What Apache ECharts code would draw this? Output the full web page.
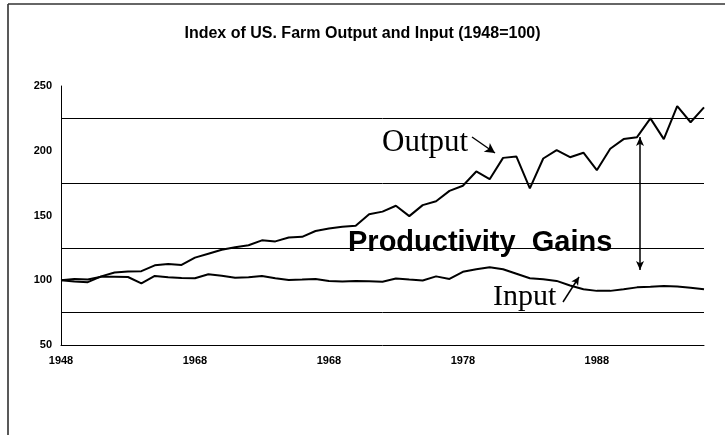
<!DOCTYPE html>
<html>
<head>
<meta charset="utf-8">
<script src="https://cdn.jsdelivr.net/npm/echarts@6/dist/echarts.min.js"></script>
<style>
html,body{margin:0;padding:0;background:#fff;}
#chart{width:725px;height:435px;}
</style>
</head>
<body>
<div id="chart"></div>
<script>
const years = [1948,1949,1950,1951,1952,1953,1954,1955,1956,1957,1958,1959,1960,1961,1962,1963,1964,1965,1966,1967,1968,1969,1970,1971,1972,1973,1974,1975,1976,1977,1978,1979,1980,1981,1982,1983,1984,1985,1986,1987,1988,1989,1990,1991,1992,1993,1994,1995,1996];
const outputIndex = [100,99,98.5,103,106,106.8,107,111.5,112.5,111.8,117.5,120.5,123.5,125.5,127,130.8,130,133,133.5,138,140,141.4,142,151,153,157.5,149.5,158,161,169,173,184,178,194.5,195.5,171,194,200.5,195,198.5,185,201.5,209,210.5,225,209,234.5,222,233.5];
const inputIndex = [100,101,100.5,102.7,102.7,102.5,97.6,103.3,102.3,101.8,101.5,104.6,103.5,102,102.3,103.3,101.5,100.2,100.5,101,99.5,99,99.4,99.2,98.9,101.3,100.5,99.8,103,101,106.5,108.5,110,108.5,105,101.5,100.8,99.5,96,93,91.8,91.8,93,94.5,95,95.6,95.2,94.2,93];
// tick positions (years) and the labels printed under them in the original
const xTickValues = [1948,1958,1968,1978,1988];
const xTickLabels = ['1948','1968','1968','1978','1988'];
const titleText = 'Index of US. Farm Output and Input (1948=100)';

const sans = '"Liberation Sans", Arial, sans-serif';
const serif = '"Liberation Serif", "Times New Roman", serif';

const outputData = years.map((y, i) => [y, outputIndex[i]]);
const inputData = years.map((y, i) => [y, inputIndex[i]]);

const chart = echarts.init(document.getElementById('chart'), null, {renderer: 'canvas'});
chart.setOption({
  animation: false,
  backgroundColor: '#fff',
  title: {
    text: titleText,
    left: 'center',
    top: 21,
    textStyle: {fontFamily: sans, fontWeight: 'bold', fontSize: 16, color: '#000'}
  },
  grid: {left: 61, right: 21, top: 86, bottom: 90},
  xAxis: {
    type: 'value', min: 1948, max: 1996, interval: 10,
    axisLine: {show: true, lineStyle: {color: '#000', width: 1}},
    axisTick: {show: false},
    splitLine: {show: false},
    axisLabel: {
      show: true, margin: 10, color: '#000', fontFamily: sans, fontWeight: 'bold', fontSize: 11,
      showMaxLabel: false,
      formatter: function (v) {
        const i = xTickValues.indexOf(Math.round(v));
        return i >= 0 ? xTickLabels[i] : '';
      }
    }
  },
  yAxis: {
    type: 'value', min: 50, max: 250, interval: 50,
    axisLine: {show: true, lineStyle: {color: '#000', width: 1}},
    axisTick: {show: false},
    axisLabel: {color: '#000', fontFamily: sans, fontWeight: 'bold', fontSize: 11, margin: 9, padding: [0, 0, 5, 0]},
    splitLine: {show: false},
    minorTick: {show: false, splitNumber: 2},
    minorSplitLine: {show: true, lineStyle: {color: '#000', width: 1}}
  },
  series: [
    {
      name: 'Output', type: 'line',
      data: outputData, showSymbol: false, symbol: 'none',
      lineStyle: {color: '#000', width: 2}, silent: true,
      markLine: {
        silent: true, animation: false,
        label: {show: false},
        lineStyle: {color: '#000', width: 1.5, type: 'solid'},
        data: [
          [{x: 472, y: 137, symbol: 'none'}, {x: 495, y: 153, symbol: 'arrow', symbolSize: [8, 10]}],
          [{x: 640, y: 137, symbol: 'arrow', symbolSize: [6, 9]}, {x: 640, y: 270, symbol: 'arrow', symbolSize: [6, 9]}],
          [{x: 563, y: 302, symbol: 'none'}, {x: 579, y: 277, symbol: 'arrow', symbolSize: [6, 8]}]
        ]
      }
    },
    {
      name: 'Input', type: 'line',
      data: inputData, showSymbol: false, symbol: 'none',
      lineStyle: {color: '#000', width: 2}, silent: true
    }
  ],
  graphic: [
    {type: 'line', shape: {x1: 8, y1: 4, x2: 8, y2: 435}, style: {stroke: '#222', lineWidth: 1.5}, silent: true},
    {type: 'line', shape: {x1: 8, y1: 4, x2: 725, y2: 4}, style: {stroke: '#333', lineWidth: 1.5}, silent: true},
    {type: 'text', x: 382, y: 143, style: {text: 'Output', font: '31px ' + serif, fill: '#000', verticalAlign: 'middle', align: 'left'}, silent: true},
    {type: 'text', x: 348, y: 243, style: {text: 'Productivity  Gains', font: 'bold 29px ' + sans, fill: '#000', verticalAlign: 'middle', align: 'left'}, silent: true},
    {type: 'text', x: 493, y: 297, style: {text: 'Input', font: '30px ' + serif, fill: '#000', verticalAlign: 'middle', align: 'left'}, silent: true}
  ]
});
</script>
</body>
</html>
